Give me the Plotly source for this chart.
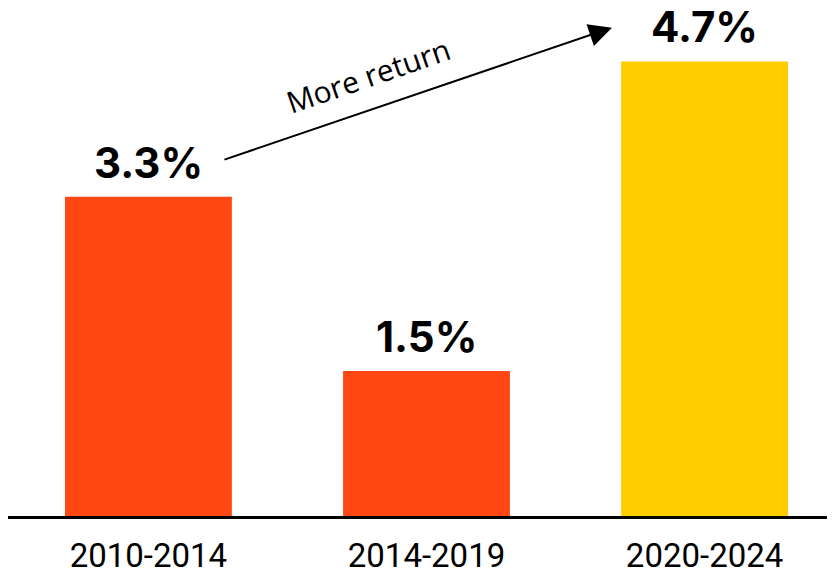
import plotly.graph_objects as go

categories = ["2010-2014", "2014-2019", "2020-2024"]
values = [3.3, 1.5, 4.7]
labels = ["3.3%", "1.5%", "4.7%"]
colors = ["#FF4714", "#FF4714", "#FFCC00"]

xs = list(range(len(categories)))

fig = go.Figure()
fig.add_trace(go.Bar(x=xs, y=values, marker=dict(color=colors, line=dict(width=0)),
                     width=0.6, hoverinfo="skip"))

for x, v, t in zip(xs, values, labels):
    fig.add_annotation(x=x, y=v, text=t, showarrow=False, yanchor="bottom", yshift=7,
                       font=dict(family="Inter, DejaVu Sans", size=42, color="black", weight="bold"))

# arrow
fig.add_annotation(x=1.667, y=5.05, ax=0.268, ay=3.68, axref="x", ayref="y", xref="x", yref="y",
                   text="", showarrow=True, arrowhead=2, arrowsize=2.3, arrowwidth=2, arrowcolor="black")
fig.add_annotation(x=0.79, y=4.55, text="More return", showarrow=False, textangle=-19,
                   font=dict(family="Open Sans, Noto Sans", size=30, color="black"))

fig.update_layout(
    width=827, height=563,
    margin=dict(l=0, r=0, t=0, b=55, autoexpand=False),
    plot_bgcolor="white", paper_bgcolor="white",
    showlegend=False,
    xaxis=dict(range=[-0.505, 2.469], tickvals=xs, ticktext=categories, showgrid=False, zeroline=False,
               showline=True, linecolor="black", linewidth=3, ticks="outside", ticklen=8,
               tickcolor="rgba(0,0,0,0)", automargin=False,
               tickfont=dict(family="Roboto", size=33, color="black")),
    yaxis=dict(range=[0, 5.253], visible=False, showgrid=False, zeroline=False, automargin=False),
)

fig.write_html("out.html")
